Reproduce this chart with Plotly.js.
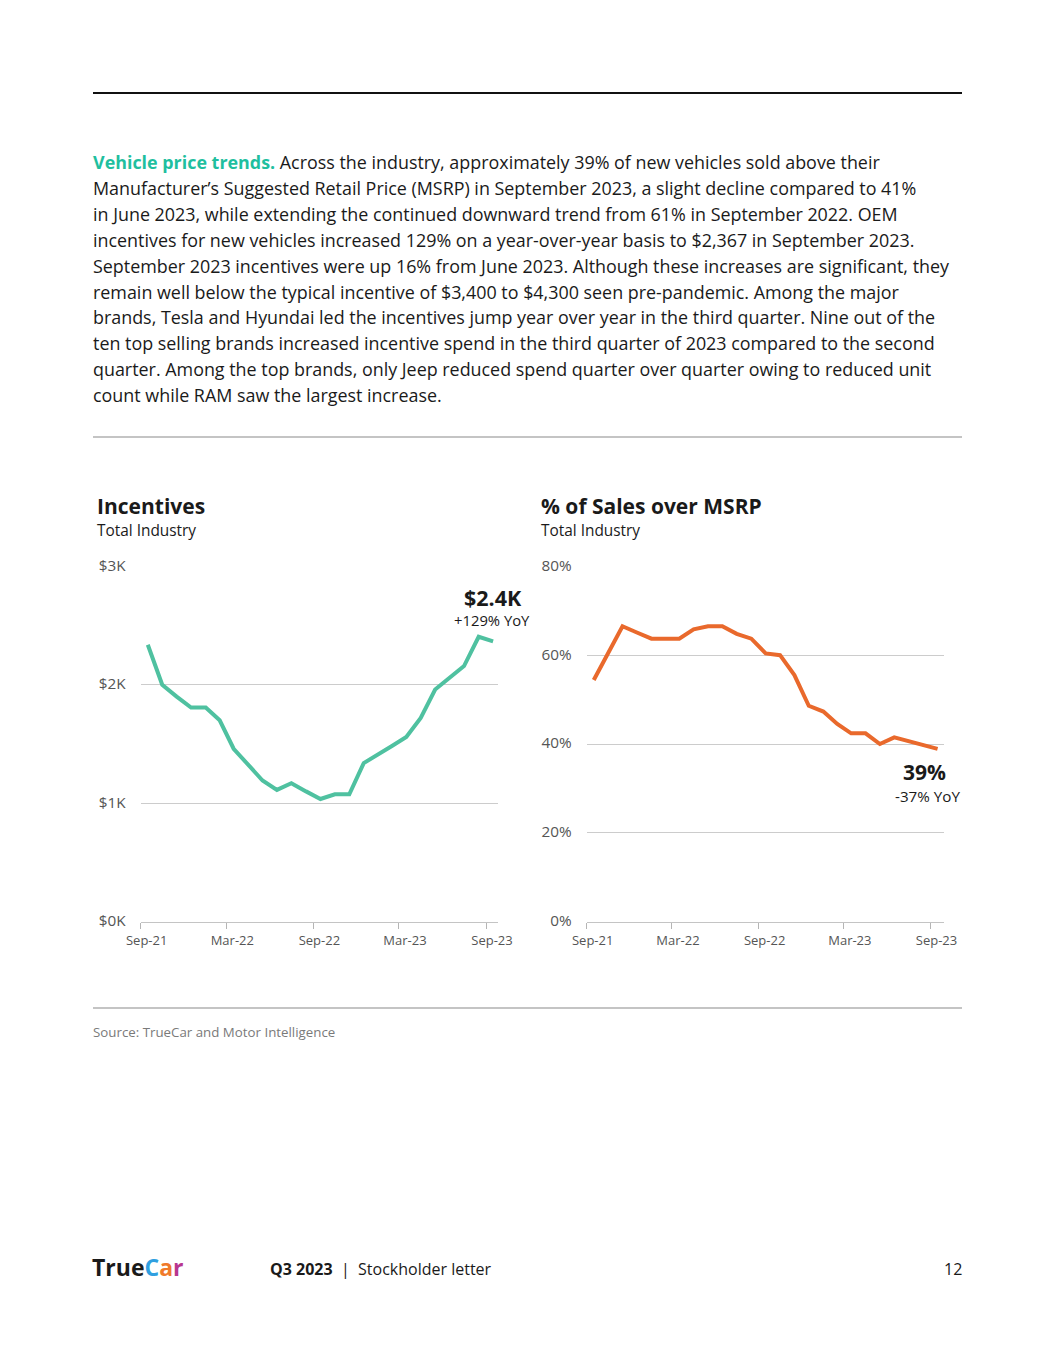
<!DOCTYPE html>
<html>
<head>
<meta charset="utf-8">
<script src="https://cdn.plot.ly/plotly-3.0.1.min.js"></script>
<style>
  html, body { margin: 0; padding: 0; background: #ffffff; }
  #chart { width: 1055px; height: 1365px; }
</style>
</head>
<body>
<div id="chart"></div>
<script>
// ---------- DATA ----------
const months = [
  '2021-09','2021-10','2021-11','2021-12','2022-01','2022-02','2022-03','2022-04','2022-05',
  '2022-06','2022-07','2022-08','2022-09','2022-10','2022-11','2022-12','2023-01','2023-02',
  '2023-03','2023-04','2023-05','2023-06','2023-07','2023-08','2023-09'
];
// Incentives, Total Industry (US$)
const incentives = [
  2338, 2000, 1900, 1808, 1808, 1700, 1460, 1330, 1192,
  1113, 1169, 1100, 1036, 1076, 1076, 1339, 1410, 1485,
  1559, 1720, 1960, 2060, 2158, 2405, 2367
];
// % of Sales over MSRP, Total Industry
const overMsrp = [
  54.4, 60.5, 66.5, 65.1, 63.7, 63.7, 63.7, 65.8, 66.5,
  66.5, 64.8, 63.7, 60.4, 60.0, 55.5, 48.6, 47.3, 44.5,
  42.4, 42.4, 40.0, 41.5, 40.6, 39.8, 38.9
];
const incTickVals = [0, 1000, 2000, 3000];
const incTickText = ['$0K', '$1K', '$2K', '$3K'];
const pctTickVals = [0, 20, 40, 60, 80];
const pctTickText = ['0%', '20%', '40%', '60%', '80%'];

// ---------- LAYOUT HELPERS ----------
const W = 1055, H = 1365;
const px = v => v / W;
const py = v => 1 - v / H;
const FONT = '"Open Sans", Lato, sans-serif';
const TXT = '#1a1a1a';

function ann(text, x, y, size, opts) {
  return Object.assign({
    text: text, xref: 'paper', yref: 'paper', x: px(x), y: py(y),
    xanchor: 'left', yanchor: 'middle', align: 'left', showarrow: false,
    font: { family: FONT, size: size, color: TXT }
  }, opts || {});
}

const paragraph = [
  "<b><span style='color:#1fbf9f'>Vehicle price trends.</span></b> Across the industry, approximately 39% of new vehicles sold above their",
  "Manufacturer’s Suggested Retail Price (MSRP) in September 2023, a slight decline compared to 41%",
  "in June 2023, while extending the continued downward trend from 61% in September 2022. OEM",
  "incentives for new vehicles increased 129% on a year-over-year basis to $2,367 in September 2023.",
  "September 2023 incentives were up 16% from June 2023. Although these increases are significant, they",
  "remain well below the typical incentive of $3,400 to $4,300 seen pre-pandemic. Among the major",
  "brands, Tesla and Hyundai led the incentives jump year over year in the third quarter. Nine out of the",
  "ten top selling brands increased incentive spend in the third quarter of 2023 compared to the second",
  "quarter. Among the top brands, only Jeep reduced spend quarter over quarter owing to reduced unit",
  "count while RAM saw the largest increase."
];

const annotations = [];
paragraph.forEach((line, i) => {
  annotations.push(ann(line, 91, 162 + i * 25.9, 17.9));
});

// chart titles
annotations.push(ann('<b>Incentives</b>', 95, 506, 21));
annotations.push(ann('Total Industry', 95, 531, 15.4));
annotations.push(ann('<b>% of Sales over MSRP</b>', 539, 506, 21));
annotations.push(ann('Total Industry', 539, 531, 15.4));

// callouts
annotations.push(ann('<b>$2.4K</b>', 492.5, 597, 21.5, { xanchor: 'center' }));
annotations.push(ann('+129% YoY', 491.5, 620.5, 14.8, { xanchor: 'center' }));
annotations.push(ann('<b>39%</b>', 924.5, 772, 21, { xanchor: 'center' }));
annotations.push(ann('-37% YoY', 927.5, 795.5, 15.2, { xanchor: 'center' }));

// source + footer
annotations.push(ann('Source: TrueCar and Motor Intelligence', 91, 1032, 13.3, { font: { family: FONT, size: 13.3, color: '#7a7a7a' } }));
annotations.push(ann("<b>True<span style='color:#2f9fe0'>C</span><span style='color:#f07a2a'>a</span><span style='color:#b8368f'>r</span></b>", 90, 1267, 23));
annotations.push(ann('<b>Q3 2023</b>  |  Stockholder letter', 268, 1269, 16));
annotations.push(ann('12', 964, 1269, 16, { xanchor: 'right' }));

const shapes = [
  { type: 'line', xref: 'paper', yref: 'paper', x0: px(93), x1: px(962), y0: py(93), y1: py(93),
    line: { color: '#111111', width: 2 } },
  { type: 'line', xref: 'paper', yref: 'paper', x0: px(93), x1: px(962), y0: py(437), y1: py(437),
    line: { color: '#c4c4c4', width: 2 } },
  { type: 'line', xref: 'paper', yref: 'paper', x0: px(93), x1: px(962), y0: py(1008), y1: py(1008),
    line: { color: '#c4c4c4', width: 2 } }
];

const yDomain = [py(921.7), py(566.3)];

function xAxis(domain, rangeEnd, anchor) {
  return {
    domain: domain, anchor: anchor, type: 'date',
    range: ['2021-09-01', rangeEnd],
    tick0: '2021-09-01', dtick: 'M6', tickformat: '%b-%y',
    ticks: 'outside', ticklen: 6, tickcolor: '#b5b5b5', tickwidth: 1,
    ticklabelshift: 6,
    showline: true, linecolor: '#c4c4c4', linewidth: 1.5,
    showgrid: false, zeroline: false,
    tickfont: { family: FONT, size: 13, color: '#555555' },
    fixedrange: true
  };
}
function yAxis(range, vals, text, anchor) {
  return {
    domain: yDomain, anchor: anchor, range: range,
    tickvals: vals, ticktext: text,
    showgrid: true, gridcolor: '#cccccc', gridwidth: 1,
    zeroline: false, showline: false, ticks: '',
    ticklabelstandoff: 14, ticklabelshift: -1,
    tickfont: { family: FONT, size: 15.3, color: '#555555' },
    fixedrange: true
  };
}

const data = [
  { x: months, y: incentives, type: 'scatter', mode: 'lines',
    xperiod: 'M1', xperiodalignment: 'middle',
    line: { color: '#4fc1a0', width: 4 }, xaxis: 'x', yaxis: 'y', hoverinfo: 'skip' },
  { x: months, y: overMsrp, type: 'scatter', mode: 'lines',
    xperiod: 'M1', xperiodalignment: 'middle',
    line: { color: '#e9692c', width: 4 }, xaxis: 'x2', yaxis: 'y2', hoverinfo: 'skip' }
];

const layout = {
  width: W, height: H,
  margin: { l: 0, r: 0, t: 0, b: 0, pad: 0 },
  paper_bgcolor: '#ffffff', plot_bgcolor: '#ffffff',
  showlegend: false,
  font: { family: FONT, color: TXT },
  xaxis: xAxis([px(140.7), px(498.3)], '2023-09-27', 'y'),
  yaxis: yAxis([0, 3000], incTickVals, incTickText, 'x'),
  xaxis2: xAxis([px(586.7), px(943.7)], '2023-09-29', 'y2'),
  yaxis2: yAxis([0, 80], pctTickVals, pctTickText, 'x2'),
  annotations: annotations,
  shapes: shapes
};

Plotly.newPlot('chart', data, layout, { staticPlot: true, displayModeBar: false });
</script>
</body>
</html>
